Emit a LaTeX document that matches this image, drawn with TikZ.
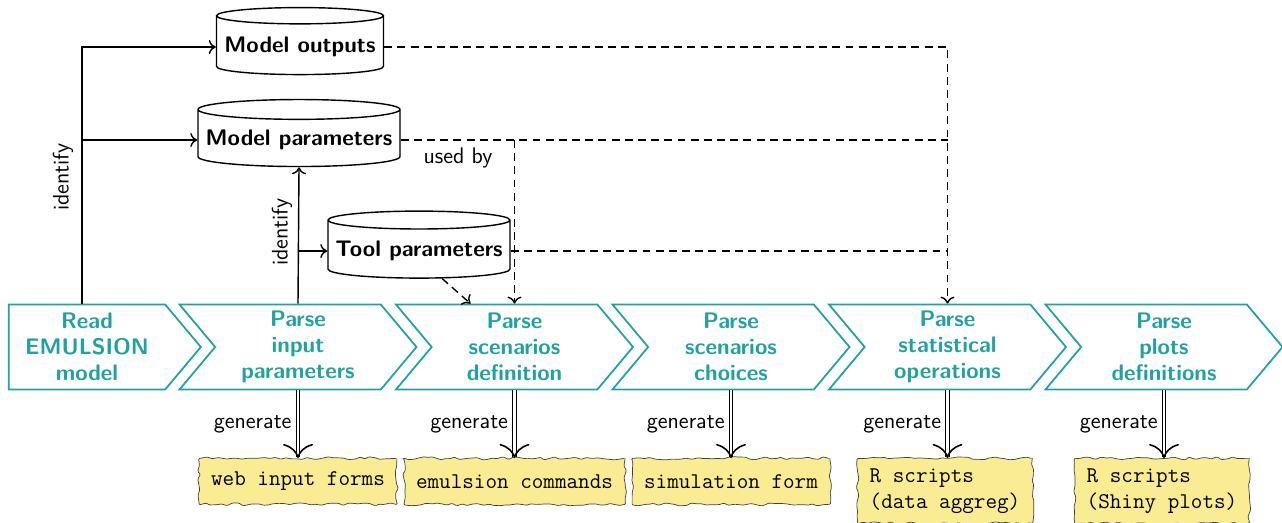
\documentclass[tikz,border=0pt]{standalone}
\usepackage{fontspec}
\usepackage{tikz}
\usetikzlibrary{calc, arrows.meta, shapes.symbols, shapes.geometric,
  decorations.pathmorphing, decorations.markings}

\definecolor{stageteal}{RGB}{32,162,160}
\definecolor{fileyellow}{RGB}{250,236,146}
\newcommand{\diagsize}{\fontsize{12.8pt}{14.8pt}\selectfont}

\tikzset{
  stage/.style={signal, signal to=east, signal from=west, signal pointer angle=100,
    draw=stageteal, line width=1pt, fill=white, text=stageteal,
    font=\diagsize\sffamily\bfseries, align=center,
    minimum width=4.74cm, minimum height=1.7cm, inner sep=1pt},
  store/.style={cylinder, shape border rotate=90, aspect=0.1, draw, line width=0.8pt,
    fill=white, font=\diagsize\sffamily\bfseries, minimum height=1.34cm},
  outfile/.style={draw=black!75, fill=fileyellow, font=\diagsize\ttfamily, align=left,
    decorate, decoration={random steps, segment length=3pt, amplitude=0.9pt},
    rounded corners=0.6pt, inner xsep=0.24cm, inner ysep=0.2cm,
    minimum height=0.92cm, anchor=north},
  lbl/.style={font=\diagsize\sffamily},
  link/.style={line width=0.8pt, -{To[length=4pt, width=8pt]}},
  gen/.style={double, line width=0.7pt, double distance=1.3pt, shorten >=0.6pt,
    postaction={decorate}, decoration={markings, mark=at position 1 with
      {\arrow[line width=0.9pt]{To[length=8pt, width=17pt]}}}},
  usedby/.style={line width=0.8pt, dash pattern=on 4.5pt off 3pt, -{To[length=4pt, width=8pt]}}
}

\begin{document}
\begin{tikzpicture}
        \useasboundingbox (0,0) rectangle (25.64,10.44);

        % processing stages
        \node[stage, signal from=nowhere, minimum width=3.84cm] (read) at (1.74,3.5) {Read\\EMULSION\\model};
        \node[stage] (pinput) at (5.96,3.5) {Parse\\input\\parameters};
        \node[stage] (pscen) at (10.29,3.5) {Parse\\scenarios\\definition};
        \node[stage] (pchoice) at (14.62,3.5) {Parse\\scenarios\\choices};
        \node[stage] (pstat) at (18.95,3.5) {Parse\\statistical\\operations};
        \node[stage] (pplots) at (23.28,3.5) {Parse\\plots\\definitions};

        % data stores
        \node[store, minimum width=3.34cm] (mout) at (6.00,9.50) {Model outputs};
        \node[store, minimum width=4.04cm] (mpar) at (5.98,7.64) {Model parameters};
        \node[store, minimum width=3.64cm] (tpar) at (8.38,5.42) {Tool parameters};

        % identify
        \coordinate (readtop) at ($(read.north west)+(1.48,0)$);
        \draw[link] (readtop) |- (mout.west);
        \draw[link] (readtop |- mpar.west) -- (mpar.west);
        \node[lbl, rotate=90] (idA) at (1.26,6.9) {identify};
        \draw[link] (pinput.north) -- (mpar.south);
        \draw[link] (pinput.north |- tpar.west) -- (tpar.west);
        \node[lbl, rotate=90] (idB) at (5.64,5.80) {identify};

        % used by
        \draw[usedby] (mout.east) -| (pstat.north);
        \draw[usedby, -] (mpar.east) -- (mpar.east -| pstat.north);
        \draw[usedby, -] (tpar.east) -- (tpar.east -| pstat.north);
        \draw[usedby] (mpar.east -| pscen.north) -- (pscen.north);
        \draw[usedby] (tpar.-50) -- ($(pscen.north)+(-0.88,0)$);
        \node[lbl] (useby) at (9.16,7.28) {used by};

        % generated files
        \node[outfile] (webform) at (5.96,1.28) {web input forms};
        \node[outfile] (emcmd) at (10.29,1.28) {emulsion commands};
        \node[outfile] (simform) at (14.62,1.28) {simulation form};
        \node[outfile] (rstat) at (18.90,1.28) {R scripts\\(data aggreg)};
        \node[outfile] (rplots) at (23.24,1.28) {R scripts\\(Shiny plots)};

        \draw[gen] (pinput.south) -- (webform.north) node[midway, left, lbl] {generate};
        \draw[gen] (pscen.south) -- (emcmd.north) node[midway, left, lbl] {generate};
        \draw[gen] (pchoice.south) -- (simform.north) node[midway, left, lbl] {generate};
        \draw[gen] (pstat.south) -- (pstat.south |- rstat.north) node[midway, left, lbl] {generate};
        \draw[gen] (pplots.south) -- (pplots.south |- rplots.north) node[midway, left, lbl] {generate};
\end{tikzpicture}
\end{document}
